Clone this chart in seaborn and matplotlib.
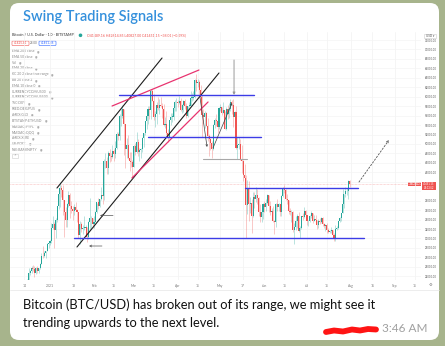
import numpy as np
import pandas as pd
import matplotlib
matplotlib.use("Agg")
import matplotlib.pyplot as plt
from matplotlib.patches import FancyBboxPatch, Rectangle, Circle
import seaborn as sns

sns.set_style("white")
plt.rcParams['font.family'] = ['Lato', 'DejaVu Sans']

# ---------------- data (BTC/USD daily, thousands of USD) ----------------
first_open = 19.4
dec_close = [21.3, 22.8, 23.1, 23.8, 23.5, 22.7, 23.8, 23.2, 23.7, 24.7, 26.4, 26.2, 27.0, 27.4, 28.8, 29.0]
dec_high = [21.5, 23.8, 23.3, 24.2, 24.3, 24.1, 23.9, 24.1, 23.8, 24.8, 26.9, 28.4, 27.4, 27.4, 29.0, 29.3]
dec_low = [19.3, 21.2, 22.3, 22.8, 23.1, 21.9, 22.4, 22.7, 22.7, 23.5, 24.6, 25.8, 26.1, 25.9, 27.3, 27.9]

jan_close = [29.4, 32.2, 33.0, 31.9, 34.0, 36.8, 39.4, 40.6, 40.2, 38.2, 35.5, 34.0, 37.4, 39.2, 36.8, 36.2,
             35.8, 36.6, 36.0, 35.5, 30.8, 33.0, 32.1, 32.3, 32.3, 32.5, 30.4, 33.5, 34.3, 34.3, 33.1]
jan_high = [29.6, 33.3, 34.8, 33.4, 34.4, 36.9, 40.2, 41.9, 41.4, 41.3, 38.2, 36.6, 37.6, 40.0, 39.6, 37.9,
            36.8, 37.3, 37.8, 36.3, 35.6, 33.8, 33.5, 32.9, 34.8, 32.9, 32.5, 33.7, 38.5, 34.8, 34.3]
jan_low = [28.6, 29.0, 32.0, 28.0, 30.2, 33.4, 36.3, 36.6, 38.7, 35.0, 30.4, 32.5, 32.4, 36.7, 34.3, 35.4,
           33.9, 34.9, 35.9, 33.4, 30.1, 28.9, 31.4, 31.0, 31.9, 30.8, 29.3, 29.9, 31.9, 32.0, 32.2]

feb_close = [33.5, 35.5, 37.7, 36.9, 38.3, 39.3, 38.9, 46.4, 46.5, 44.9, 48.0, 47.4, 47.2, 48.6, 47.9, 49.1,
             52.1, 51.6, 55.9, 55.9, 57.5, 54.2, 48.9, 49.7, 47.0, 46.3, 46.2, 45.2]
feb_high = [34.7, 35.9, 37.6, 38.6, 38.3, 40.9, 39.6, 46.8, 48.1, 47.3, 48.6, 48.9, 48.1, 49.7, 49.0, 50.6,
            52.6, 52.5, 56.3, 57.5, 58.3, 57.5, 54.2, 51.3, 52.0, 48.4, 48.3, 46.7]
feb_low = [32.3, 33.4, 35.4, 36.2, 36.6, 38.1, 37.4, 38.1, 45.0, 43.7, 43.7, 46.2, 46.3, 47.0, 46.3, 47.1,
           48.9, 50.9, 50.8, 53.9, 55.5, 47.6, 45.0, 47.1, 46.9, 44.2, 45.2, 43.0]

mar_close = [49.6, 48.4, 50.5, 48.4, 48.8, 48.9, 51.2, 52.3, 54.9, 55.9, 57.3, 57.2, 61.2, 59.0, 55.7, 56.4,
             58.3, 57.6, 58.3, 58.1, 57.4, 54.1, 54.3, 52.3, 51.3, 55.0, 55.8, 55.8, 57.6, 58.8, 58.8]
mar_high = [49.8, 50.1, 52.6, 51.0, 49.2, 49.2, 51.4, 52.4, 54.9, 57.4, 58.1, 58.0, 61.7, 61.7, 60.6, 56.9,
            58.9, 60.0, 59.5, 59.9, 58.6, 58.4, 55.8, 57.0, 53.2, 55.1, 56.6, 56.6, 58.3, 59.3, 59.8]
mar_low = [45.1, 47.7, 48.1, 47.5, 46.3, 47.1, 48.3, 49.3, 52.0, 53.1, 54.3, 55.3, 55.2, 59.0, 55.0, 53.6,
           54.2, 57.1, 56.3, 57.9, 55.6, 53.9, 53.3, 52.0, 50.5, 51.3, 54.0, 54.7, 55.1, 57.0, 56.9]

apr_close = [58.7, 59.0, 57.1, 58.2, 59.1, 58.0, 56.0, 58.1, 58.1, 59.8, 59.8, 59.9, 63.5, 62.9, 63.2, 61.4,
             60.0, 56.2, 55.7, 56.5, 53.8, 51.7, 51.1, 50.1, 49.0, 54.0, 55.0, 54.8, 53.6, 57.7]
apr_high = [59.4, 60.1, 59.8, 58.5, 59.3, 59.5, 58.6, 58.1, 58.9, 61.2, 60.7, 61.2, 63.8, 64.8, 63.8, 63.5,
            62.5, 60.4, 57.5, 57.0, 56.8, 55.4, 52.1, 51.2, 50.6, 54.3, 55.4, 56.4, 55.2, 57.9]
apr_low = [57.9, 58.4, 56.9, 56.5, 56.8, 57.4, 55.5, 55.8, 57.8, 58.0, 59.1, 59.4, 59.8, 61.3, 62.1, 60.1,
           59.6, 51.5, 54.2, 53.4, 53.7, 50.6, 47.5, 48.8, 47.1, 48.8, 53.4, 53.9, 52.4, 53.1]

may_close = [57.8, 56.6, 57.2, 53.2, 57.5, 56.4, 57.4, 58.9, 58.3, 55.8, 56.7, 49.2, 49.7, 49.9, 46.8, 46.4,
             43.5, 42.9, 37.0, 40.7, 37.3, 37.5, 34.7, 38.8, 38.3, 39.3, 38.5, 35.7, 34.6, 35.7, 37.3]
may_high = [58.4, 57.9, 58.9, 57.0, 57.9, 58.3, 58.6, 59.5, 59.2, 59.6, 57.0, 58.0, 51.4, 51.5, 51.0, 49.7,
            46.6, 45.7, 43.5, 42.4, 42.2, 38.8, 38.3, 39.9, 39.8, 40.8, 40.4, 38.8, 37.2, 36.4, 37.5]
may_low = [57.0, 56.1, 56.5, 53.1, 52.9, 55.3, 55.5, 56.9, 56.3, 53.5, 54.5, 48.9, 46.9, 48.9, 46.6, 43.9,
           42.1, 42.3, 30.0, 35.2, 33.6, 35.3, 31.1, 34.6, 36.5, 37.8, 37.2, 34.8, 33.4, 33.5, 34.2]

jun_close = [36.7, 37.6, 39.2, 36.9, 35.5, 35.8, 33.6, 33.4, 37.4, 36.7, 37.3, 35.6, 39.0, 40.5, 40.2, 38.3,
             38.1, 35.8, 35.5, 35.6, 31.7, 32.5, 33.7, 34.7, 31.6, 32.2, 34.7, 34.5, 35.9, 35.0]
jun_high = [37.9, 38.3, 39.5, 39.3, 37.9, 36.4, 36.8, 34.0, 37.5, 38.4, 37.6, 37.4, 39.3, 41.0, 41.3, 40.5,
            39.5, 38.2, 36.4, 36.1, 35.8, 33.3, 34.8, 35.2, 35.5, 32.7, 34.7, 35.3, 36.6, 36.0]
jun_low = [35.7, 35.9, 37.2, 35.6, 34.9, 35.3, 33.4, 31.0, 32.4, 35.8, 35.9, 34.7, 34.8, 38.8, 39.6, 38.1,
           37.4, 35.2, 34.9, 33.4, 31.3, 28.8, 31.7, 32.3, 31.3, 30.2, 32.0, 33.9, 34.3, 34.1]

jul_close = [33.6, 33.8, 34.7, 35.3, 33.7, 34.2, 33.9, 32.9, 33.8, 33.5, 34.3, 33.1, 32.7, 32.8, 31.8, 31.4,
             31.5, 31.8, 30.8, 29.8, 32.1, 32.3, 33.6, 34.3, 35.4, 37.3, 39.5, 40.0, 40.0, 42.2, 41.5]
jul_high = [35.0, 33.9, 34.9, 35.9, 35.3, 35.0, 35.0, 33.9, 34.1, 34.3, 34.6, 34.6, 33.3, 33.1, 33.2, 32.2,
            31.9, 32.4, 31.9, 31.1, 32.8, 32.6, 33.6, 34.5, 35.4, 40.5, 39.5, 40.9, 40.6, 42.3, 42.4]
jul_low = [32.8, 32.7, 33.4, 34.4, 33.2, 33.6, 33.7, 32.1, 32.3, 33.1, 33.3, 32.7, 32.2, 31.6, 31.2, 31.1,
           31.2, 31.2, 30.5, 29.5, 29.5, 31.7, 32.0, 33.4, 33.8, 35.3, 36.4, 38.8, 39.3, 38.3, 41.0]

closes = dec_close + jan_close + feb_close + mar_close + apr_close + may_close + jun_close + jul_close
highs = dec_high + jan_high + feb_high + mar_high + apr_high + may_high + jun_high + jul_high
lows = dec_low + jan_low + feb_low + mar_low + apr_low + may_low + jun_low + jul_low
dates = pd.date_range("2020-12-16", periods=len(closes), freq="D")

df = pd.DataFrame({"date": dates, "close": np.array(closes) * 1000,
                   "high": np.array(highs) * 1000, "low": np.array(lows) * 1000})
df["open"] = [first_open * 1000] + list(df["close"].iloc[:-1])
df["up"] = df["close"] >= df["open"]

last_price = 41451.15

# drawn analysis lines: day offsets from 2021-01-01 and prices
START = pd.Timestamp("2021-01-01")
black_upper_days, black_upper_prices = [4.9, 78.9], [40680, 68190]
black_lower_days, black_lower_prices = [19.0, 119.0], [28200, 65020]
pink_upper_days, pink_upper_prices = [43.7, 104.9], [58030, 65650]
pink_lower_days, pink_lower_prices = [57.7, 111.3], [42800, 58880]
blue_levels = [(48.6, 143.7, 60360), (69.0, 148.6, 51475), (16.9, 221.1, 30100), (137.3, 216.9, 40580)]
gray_level = (107.7, 138.7, 46820)
down_arrow = (129.6, 67770, 60360)
zig_down = ((105.6, 59940), (110.6, 49360))
zig_up = ((114.8, 49150), (128.2, 58670))
left_arrows = [((44.4, 34860), (35.2, 34860)), ((36.6, 28410), (27.5, 28410))]
dashed_arrow = ((217.6, 41950), (238.7, 50840))

tick_dates = ["2020-12-14", "2021-01-01", "2021-01-18", "2021-02-01", "2021-02-15", "2021-03-01",
              "2021-03-15", "2021-04-01", "2021-04-15", "2021-05-01", "2021-05-17", "2021-06-01",
              "2021-06-15", "2021-07-01", "2021-07-15", "2021-08-01", "2021-08-16", "2021-09-01",
              "2021-09-15"]
tick_labels = ["14", "2021", "18", "Feb", "15", "Mar", "15", "Apr", "15", "May", "17", "Jun",
               "15", "Jul", "15", "Aug", "16", "Sep", "15"]
price_ticks = list(range(22000, 74000, 2000))

indicators = ["EMA 200 close", "EMA 50 close", "Vol", "EMA 20 close", "KC 20 2 close true range",
              "BB 20 close 2", "EMA 10 close 0", "CURRENCYCOM:US30", "CURRENCYCOM:US500", "TVC:DXY",
              "FRED:DEXJPUS", "AMEX:GLD", "BITSTAMP:ETHUSD", "NASDAQ:PYPL", "NASDAQ:QQQ",
              "AMEX:XLRE", "USI:PCRT", "NSE:BANKNIFTY"]

title = "Swing Trading Signals"
caption1 = "Bitcoin (BTC/USD) has broken out of its range, we might see it"
caption2 = "trending upwards to the next level."
time_text = "3:46 AM"


def d(x):
    return START + pd.Timedelta(days=x)


# ---------------- figure ----------------
W, H = 445, 346
fig = plt.figure(figsize=(W / 100, H / 100), dpi=100)
fig.patch.set_facecolor("#a7b48c")

bg = fig.add_axes([0, 0, 1, 1])
bg.set_xlim(0, W)
bg.set_ylim(H, 0)
bg.axis("off")
bg.add_patch(FancyBboxPatch((10, 3), 429, 337, boxstyle="round,pad=0,rounding_size=9",
                            facecolor="white", edgecolor="none"))

bg.text(23, 17, title, color="#3490dc", fontsize=10.5, fontweight="semibold", va="center", ha="left")
bg.text(23, 305, caption1, color="#111111", fontsize=9.3, va="center", ha="left")
bg.text(23, 323, caption2, color="#111111", fontsize=9.3, va="center", ha="left")
bg.text(428, 329, time_text, color="#a0a0a0", fontsize=8.5, va="center", ha="right")
bg.plot([326, 334, 343, 352, 360, 368, 376], [332, 330.5, 331.5, 329.5, 330.5, 329, 329.5],
        color="#ff1414", lw=4.2, solid_capstyle="round")

# chart header texts (tiny TradingView legend)
bg.text(12, 35.5, "Bitcoin / U.S. Dollar · 1D · BITSTAMP", fontsize=2.7, color="#333", va="center")
bg.add_patch(Circle((80.5, 35.3), 1.1, color="#26a69a"))
bg.text(87, 35.5, "O41489.16 H42614.85 L40827.00 C41451.15 −38.01 (−0.09%)", fontsize=2.5,
        color="#ef5350", va="center")
bg.add_patch(FancyBboxPatch((12, 41), 17, 4.5, boxstyle="round,pad=0,rounding_size=0.8",
                            facecolor="white", edgecolor="#ef5350", lw=0.4))
bg.text(20.5, 43.3, "41425.41", fontsize=2.2, color="#ef5350", ha="center", va="center")
bg.text(34, 43.3, "28.00", fontsize=2.2, color="#666", ha="center", va="center")
bg.add_patch(FancyBboxPatch((39, 41), 17, 4.5, boxstyle="round,pad=0,rounding_size=0.8",
                            facecolor="white", edgecolor="#2962ff", lw=0.4))
bg.text(47.5, 43.3, "41451.46", fontsize=2.2, color="#2962ff", ha="center", va="center")
for i, name in enumerate(indicators):
    y = 51 + i * 5.8
    t = bg.text(12, y, name, fontsize=2.4, color="#8a8a8a", va="center")
    bg.annotate("◉", xy=(1, 0.5), xycoords=t, xytext=(1.5, 0), textcoords="offset points",
                fontsize=2.2, color="#999", va="center", ha="left")
bg.add_patch(Rectangle((12, 154), 6, 4, facecolor="white", edgecolor="#ccc", lw=0.4))
bg.text(15, 156.3, "⌃", fontsize=2.4, color="#777", ha="center", va="center")
bg.add_patch(Rectangle((424, 34), 12, 4, facecolor="white", edgecolor="#ccc", lw=0.4))
bg.text(430, 36, "USD ▾", fontsize=2.2, color="#555", ha="center", va="center")
bg.text(430, 285, "⚙", fontsize=3, color="#777", ha="center", va="center", family="DejaVu Sans")
bg.plot([10, 439], [290, 290], color="#e6e6e6", lw=0.5)

# ---------------- chart axes ----------------
px_l, px_r, px_t, px_b = 10, 421, 32, 280
ax = fig.add_axes([px_l / W, 1 - px_b / H, (px_r - px_l) / W, (px_b - px_t) / H])
ax.set_facecolor("white")
ax.patch.set_alpha(0)

for td in tick_dates:
    ax.axvline(pd.Timestamp(td), color="#f1f1f1", lw=0.5, zorder=0)
for p in price_ticks:
    ax.axhline(p, color="#f4f4f4", lw=0.5, zorder=0)

# current price line
ax.axhline(last_price, color="#f7b4b3", lw=0.5, ls=(0, (1, 1)), zorder=1)

up_c, dn_c = "#26a69a", "#ef5350"
cols = np.where(df["up"], up_c, dn_c)
ax.vlines(df["date"], df["low"], df["high"], colors=cols, lw=0.5, alpha=0.45, zorder=2)
body_lo = np.minimum(df["open"], df["close"])
body_h = np.maximum(np.abs(df["close"] - df["open"]), 60)
ax.bar(df["date"], body_h, bottom=body_lo, width=0.75, color=cols, linewidth=0, zorder=3)


def seg(days, prices, color, lw, **kw):
    sns.lineplot(x=[d(v) for v in days], y=prices, ax=ax, color=color, lw=lw, sort=False,
                 estimator=None, legend=False, zorder=5, **kw)


seg(black_upper_days, black_upper_prices, "#1c1c1c", 0.8)
seg(black_lower_days, black_lower_prices, "#1c1c1c", 0.8)
seg(pink_upper_days, pink_upper_prices, "#e8336f", 0.9)
seg(pink_lower_days, pink_lower_prices, "#e8336f", 0.9)
for a, b, p in blue_levels:
    seg([a, b], [p, p], "#3c3ce6", 1.0)
seg([gray_level[0], gray_level[1]], [gray_level[2]] * 2, "#a8a8a8", 0.8)

arrow_kw = dict(arrowstyle="-|>", mutation_scale=3.5, shrinkA=0, shrinkB=0)
ax.annotate("", xy=(d(down_arrow[0]), down_arrow[2]), xytext=(d(down_arrow[0]), down_arrow[1]),
            arrowprops=dict(color="#9a9a9a", lw=0.7, **arrow_kw), zorder=6)
for (s, e) in (zig_down, zig_up):
    ax.annotate("", xy=(d(e[0]), e[1]), xytext=(d(s[0]), s[1]),
                arrowprops=dict(color="#444444", lw=0.5, arrowstyle="->", mutation_scale=3,
                                shrinkA=0, shrinkB=0), zorder=6)
for (s, e) in left_arrows:
    ax.annotate("", xy=(d(e[0]), e[1]), xytext=(d(s[0]), s[1]),
                arrowprops=dict(color="#555555", lw=0.5, arrowstyle="->", mutation_scale=3.5,
                                shrinkA=0, shrinkB=0), zorder=6)
s, e = dashed_arrow
ax.annotate("", xy=(d(e[0]), e[1]), xytext=(d(s[0]), s[1]),
            arrowprops=dict(color="#555555", lw=0.6, arrowstyle="->", mutation_scale=3.5,
                            linestyle=(0, (2, 2)), shrinkA=0, shrinkB=0), zorder=6)

# axes limits / ticks
ax.set_xlim(d((px_l - 50) / 1.42), d((px_r - 50) / 1.42))
ax.set_ylim(72000 - (px_b - 40) * 211.6, 72000 - (px_t - 40) * 211.6)
ax.set_xticks([pd.Timestamp(t) for t in tick_dates])
ax.set_xticklabels(tick_labels)
ax.tick_params(axis="x", length=0, pad=2.6, labelsize=2.4, labelcolor="#777")
ax.yaxis.tick_right()
ax.set_yticks(price_ticks)
# the 42000 label sits under the last-price tag, as in the reference
ax.set_yticklabels(["" if abs(p - last_price) < 1500 else f"{p:.2f}" for p in price_ticks])
ax.tick_params(axis="y", length=0, pad=3, labelsize=2.0, labelcolor="#555")
ax.set_xlabel("")
ax.set_ylabel("")
for sp in ax.spines.values():
    sp.set_visible(False)

# price labels on the right
bg.add_patch(Rectangle((408, 182.4), 13, 4, facecolor="#ef5350", edgecolor="none"))
bg.text(414.5, 184.4, "BTCUSD", fontsize=1.9, color="white", ha="center", va="center")
bg.add_patch(Rectangle((422, 182), 14, 8, facecolor="#ef5350", edgecolor="none"))
bg.text(429, 184.2, f"{last_price:.2f}", fontsize=1.9, color="white", ha="center", va="center")
bg.text(429, 188, "06:13:52", fontsize=1.9, color="white", ha="center", va="center")

fig.savefig("out.png", dpi=100, facecolor=fig.get_facecolor())
